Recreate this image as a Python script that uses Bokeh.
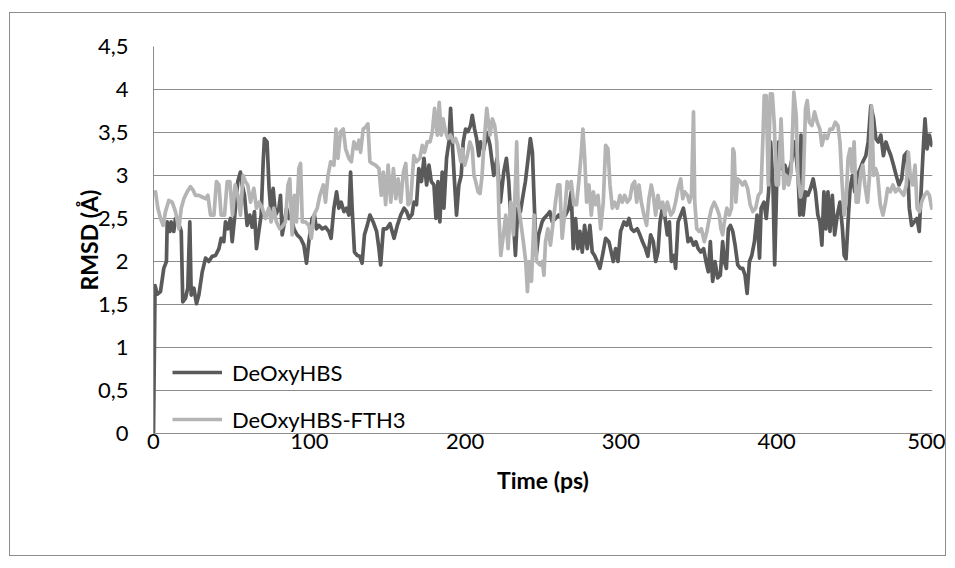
from bokeh.plotting import figure
from bokeh.layouts import column
from bokeh.models import FixedTicker, Range1d, Legend, LegendItem
from bokeh.embed import file_html
from bokeh.resources import INLINE

# ---------------- data ----------------
dark_t = [0, 1.0, 2.4, 4.5, 6.6, 8.3, 8.8, 10.5, 11.3, 13.0, 14.1, 16.0, 17.8, 18.8, 20.5, 22.0, 23.3, 24.2, 25.9, 27.6,
          29.1, 31.3, 33.4, 35.5, 37.7, 39.8, 42.0, 43.4, 45.1, 46.2, 47.7, 49.4, 50.5, 52.0, 54.1, 55.8, 56.9, 58.4, 60.1, 61.8,
          63.3, 64.8, 66.1, 67.6, 69.1, 70.4, 71.2, 72.9, 74.2, 75.5, 76.8, 78.3, 80.5, 81.5, 82.6, 84.1, 85.4, 86.9, 88.4, 90.1,
          92.2, 94.4, 96.5, 98.2, 99.7, 101.8, 103.3, 104.6, 106.1, 108.3, 110.4, 112.5, 114.0, 115.8, 117.5, 119.0, 120.5, 122.2, 123.9, 125.4,
          126.5, 127.5, 129.0, 130.8, 132.4, 133.9, 135.4, 137.2, 138.9, 141.0, 143.2, 144.7, 145.8, 147.5, 149.6, 151.8, 154.4, 156.5, 158.7, 160.8,
          162.5, 164.0, 166.0, 167.1, 168.8, 170.3, 172.0, 173.6, 175.3, 176.8, 178.3, 180.0, 181.3, 182.6, 183.8, 185.3, 186.4, 188.1, 189.6, 190.7,
          192.0, 193.2, 194.5, 196.0, 197.5, 198.8, 200.3, 201.8, 203.5, 204.6, 206.1, 207.4, 208.8, 209.9, 212.0, 214.0, 216.0, 218.4, 220.5, 222.7,
          224.8, 226.5, 228.0, 229.5, 230.8, 232.3, 233.8, 235.5, 237.2, 238.7, 240.2, 241.9, 243.2, 244.5, 245.7, 247.2, 249.4, 250.6, 252.7, 254.4,
          255.9, 258.0, 260.1, 262.3, 264.4, 266.6, 268.1, 269.4, 270.9, 272.4, 273.7, 275.2, 276.7, 278.4, 280.1, 281.6, 283.1, 284.8, 286.5, 288.2,
          290.2, 292.3, 293.8, 295.1, 296.6, 298.1, 299.8, 302.0, 303.7, 305.2, 306.7, 308.4, 310.5, 312.2, 313.9, 315.8, 317.3, 319.1, 320.8, 322.3,
          323.8, 325.1, 326.6, 328.1, 329.8, 331.1, 332.4, 334.2, 335.1, 336.7, 338.4, 340.1, 341.6, 343.1, 344.8, 346.6, 348.1, 349.6, 351.3, 353.1,
          354.6, 356.1, 357.4, 358.9, 360.4, 362.1, 363.8, 365.3, 366.4, 367.7, 369.0, 370.3, 371.8, 373.3, 375.0, 376.7, 378.2, 379.7, 381.0, 382.5,
          384.0, 385.7, 387.4, 389.0, 390.0, 391.8, 393.3, 394.8, 396.1, 397.6, 398.7, 400.0, 401.3, 403.0, 405.2, 407.3, 409.5, 411.6, 413.7, 414.8,
          415.6, 417.0, 418.5, 420.0, 421.7, 423.4, 424.9, 426.4, 427.7, 429.0, 430.3, 431.6, 432.9, 434.2, 435.7, 437.2, 438.9, 440.6, 442.2, 443.3,
          444.5, 445.8, 447.1, 448.6, 450.1, 451.8, 453.6, 455.3, 457.2, 458.7, 460.4, 462.2, 463.6, 465.2, 466.8, 468.5, 470.1, 471.6, 473.3, 475.0,
          476.7, 478.5, 480.2, 481.9, 483.6, 485.1, 486.6, 488.3, 490.0, 491.5, 493.0, 494.3, 495.2, 496.5, 498.0, 499.5, 500.0]
dark_v = [0.00, 1.72, 1.62, 1.65, 1.92, 2.00, 2.46, 2.35, 2.46, 2.35, 2.50, 2.45, 2.35, 1.53, 1.57, 1.69, 2.46, 1.61, 1.69, 1.51,
          1.61, 1.88, 2.04, 2.00, 2.06, 2.07, 2.15, 2.27, 2.23, 2.46, 2.38, 2.50, 2.23, 2.50, 2.93, 3.04, 2.89, 2.77, 2.42, 2.54,
          2.40, 2.58, 2.15, 2.35, 2.54, 3.16, 3.43, 3.39, 2.85, 2.54, 2.85, 2.54, 2.62, 2.77, 2.31, 2.46, 2.62, 2.50, 2.54, 2.38,
          2.31, 2.27, 2.19, 1.98, 2.23, 2.50, 2.54, 2.38, 2.42, 2.38, 2.40, 2.35, 2.27, 2.62, 2.81, 2.62, 2.69, 2.58, 2.62, 2.54,
          3.04, 2.62, 2.11, 2.07, 2.06, 1.98, 2.31, 2.42, 2.54, 2.46, 2.35, 2.15, 1.96, 2.38, 2.38, 2.44, 2.27, 2.42, 2.54, 2.62,
          2.58, 2.50, 2.55, 2.69, 2.66, 3.08, 2.93, 3.20, 2.89, 3.12, 2.93, 2.89, 2.50, 2.93, 2.46, 3.04, 2.62, 3.20, 3.39, 3.78,
          3.31, 2.93, 2.54, 2.89, 3.00, 3.39, 3.54, 3.51, 3.58, 3.70, 3.54, 3.43, 3.23, 3.39, 3.30, 3.50, 3.35, 3.00, 3.20, 2.69,
          3.04, 3.20, 2.93, 2.46, 2.54, 2.07, 2.62, 2.58, 2.77, 2.93, 3.16, 3.43, 3.27, 2.62, 2.07, 2.31, 2.46, 2.50, 2.54, 2.58,
          2.46, 2.50, 2.54, 2.50, 2.54, 2.62, 2.81, 2.15, 2.50, 2.15, 2.35, 2.11, 2.42, 2.15, 2.42, 2.11, 2.07, 2.00, 1.92, 2.07,
          2.27, 2.23, 2.11, 2.00, 2.15, 2.00, 2.35, 2.46, 2.42, 2.50, 2.38, 2.35, 2.38, 2.31, 2.23, 2.15, 2.06, 2.31, 2.23, 2.00,
          2.11, 2.46, 2.62, 2.54, 2.31, 2.46, 2.00, 2.07, 1.92, 2.46, 2.54, 2.62, 2.46, 2.23, 2.27, 2.19, 2.23, 2.15, 2.11, 2.15,
          2.00, 1.88, 2.23, 1.77, 2.00, 1.81, 1.84, 2.23, 2.00, 1.92, 2.38, 2.42, 2.35, 2.19, 1.96, 1.92, 1.92, 1.84, 1.63, 2.00,
          2.07, 2.23, 2.54, 2.04, 2.62, 2.69, 2.50, 2.81, 3.39, 2.89, 1.96, 2.89, 3.39, 3.08, 3.12, 3.00, 3.16, 3.39, 3.00, 2.54,
          3.47, 2.54, 2.81, 2.77, 2.85, 2.96, 2.81, 2.54, 2.46, 2.19, 2.81, 2.38, 2.81, 2.35, 2.77, 2.31, 2.54, 2.69, 2.38, 2.07,
          2.03, 2.46, 2.85, 3.00, 2.81, 3.00, 3.08, 3.16, 3.23, 3.39, 3.81, 3.66, 3.43, 3.39, 3.47, 3.23, 3.39, 3.31, 3.23, 3.12,
          3.00, 2.89, 2.96, 3.23, 3.27, 2.62, 2.42, 2.46, 2.50, 2.35, 2.93, 3.39, 3.66, 3.31, 3.47, 3.35, 3.35]

light_t = [0, 1.3, 2.8, 4.5, 6.2, 7.7, 9.8, 12.0, 14.1, 16.3, 17.8, 19.5, 21.6, 23.7, 25.4, 26.9, 29.1, 31.2, 33.4, 34.9,
           36.6, 38.8, 40.4, 42.0, 43.4, 45.6, 47.3, 49.0, 50.7, 52.4, 54.1, 55.8, 57.5, 59.0, 60.5, 62.3, 64.4, 66.1, 67.8, 69.8,
           71.9, 74.0, 75.5, 77.2, 78.9, 81.1, 82.5, 84.7, 86.3, 87.5, 89.0, 90.5, 91.8, 93.3, 94.4, 95.5, 97.6, 99.7, 101.3, 103.0,
           105.1, 106.8, 109.0, 110.4, 112.0, 113.7, 115.8, 117.1, 118.4, 120.1, 121.8, 123.3, 125.4, 127.0, 128.6, 130.4, 131.9, 132.9, 134.6, 136.1,
           137.6, 138.9, 140.4, 142.5, 144.7, 146.2, 147.5, 149.0, 150.6, 152.3, 154.0, 155.5, 157.0, 158.7, 160.4, 161.9, 163.4, 165.0, 167.1, 168.8,
           171.0, 172.5, 174.0, 175.7, 177.5, 179.0, 180.4, 182.2, 183.4, 184.7, 185.9, 187.4, 189.0, 190.7, 192.4, 193.9, 195.4, 197.2, 198.2, 199.7,
           201.4, 203.1, 204.6, 205.7, 206.8, 208.3, 209.6, 210.9, 212.2, 213.9, 214.7, 216.0, 217.5, 219.0, 220.3, 221.2, 221.8, 222.9, 224.6, 226.1,
           227.6, 229.3, 231.0, 232.5, 233.1, 234.0, 235.7, 237.4, 238.9, 240.0, 241.0, 242.6, 244.3, 245.9, 248.1, 249.6, 250.6, 251.6, 253.1, 254.8,
           256.5, 258.0, 259.5, 260.8, 262.3, 263.8, 265.5, 266.8, 268.1, 269.8, 271.5, 273.0, 274.6, 275.6, 276.7, 278.0, 279.5, 281.0, 282.3, 283.8,
           285.3, 287.0, 288.7, 290.2, 291.7, 293.0, 294.5, 296.0, 297.7, 299.4, 300.9, 302.4, 304.1, 305.8, 307.3, 308.8, 310.1, 311.6, 313.1, 314.8,
           316.5, 318.0, 319.5, 320.8, 322.3, 323.8, 325.1, 326.8, 328.1, 329.8, 332.0, 333.6, 335.1, 336.7, 338.4, 339.7, 341.0, 342.7, 344.0, 345.3,
           346.6, 347.4, 348.7, 350.2, 351.7, 353.5, 355.2, 356.7, 358.2, 359.9, 361.6, 363.1, 364.2, 365.3, 366.4, 368.0, 369.6, 371.0, 371.9, 372.7,
           373.8, 374.9, 376.6, 378.1, 379.6, 381.3, 383.0, 384.7, 386.5, 388.2, 389.9, 391.2, 392.0, 393.3, 394.6, 395.9, 397.2, 398.5, 399.8, 401.1,
           402.8, 404.6, 406.1, 407.6, 409.3, 411.0, 412.5, 413.6, 415.3, 417.0, 418.5, 419.6, 420.9, 422.6, 424.3, 426.0, 427.7, 429.0, 430.7, 432.4,
           434.2, 435.9, 437.6, 439.3, 440.6, 441.9, 443.3, 444.5, 445.8, 447.1, 448.4, 449.7, 451.0, 452.3, 454.0, 455.3, 456.6, 458.3, 459.6, 460.9,
           462.2, 463.5, 464.8, 466.5, 468.2, 469.9, 471.2, 472.9, 474.6, 476.3, 478.1, 479.8, 481.5, 483.2, 484.5, 485.7, 487.2, 488.8, 490.1, 491.6,
           493.0, 494.8, 496.5, 498.0, 499.5, 500.0]
light_v = [2.80, 2.81, 2.62, 2.50, 2.42, 2.58, 2.71, 2.69, 2.58, 2.38, 2.62, 2.73, 2.81, 2.87, 2.83, 2.77, 2.77, 2.75, 2.73, 2.77,
           2.54, 2.54, 2.93, 2.89, 2.54, 2.54, 2.93, 2.93, 2.54, 2.89, 2.77, 2.54, 3.00, 2.93, 2.89, 2.69, 2.85, 2.62, 2.69, 2.62,
           2.50, 2.62, 2.46, 2.62, 2.46, 2.38, 2.40, 2.46, 2.89, 2.96, 2.31, 2.77, 2.46, 3.08, 3.14, 2.46, 2.46, 2.42, 2.27, 2.54,
           2.62, 2.77, 2.89, 2.69, 3.00, 3.16, 3.12, 3.54, 3.20, 3.51, 3.54, 3.31, 3.20, 3.16, 3.39, 3.31, 3.41, 3.27, 3.54, 3.56,
           3.60, 3.16, 3.14, 3.12, 3.08, 2.77, 3.04, 2.66, 3.12, 2.69, 3.08, 2.73, 2.96, 2.69, 3.04, 3.14, 2.66, 2.69, 3.23, 3.16,
           3.20, 3.35, 3.27, 3.39, 3.39, 3.51, 3.78, 3.47, 3.85, 3.47, 3.66, 3.51, 3.43, 3.47, 3.39, 3.43, 3.35, 3.16, 3.31, 3.12,
           3.23, 3.39, 3.31, 3.00, 2.93, 2.81, 2.79, 3.00, 3.39, 3.78, 3.66, 3.47, 3.66, 3.58, 3.39, 2.93, 2.50, 2.07, 2.31, 2.54,
           2.15, 2.69, 2.31, 3.00, 3.39, 2.69, 2.46, 2.23, 2.00, 1.65, 2.00, 1.77, 2.54, 2.00, 1.96, 2.00, 1.84, 2.23, 2.38, 2.19,
           2.46, 2.69, 2.89, 2.89, 2.27, 2.54, 2.93, 2.85, 2.93, 2.66, 2.66, 2.93, 3.27, 3.54, 3.23, 2.69, 2.89, 2.54, 2.81, 2.66,
           2.77, 2.38, 2.69, 3.35, 3.31, 2.89, 2.62, 2.69, 2.62, 2.77, 2.69, 2.77, 2.69, 2.73, 2.89, 2.93, 2.69, 2.89, 2.69, 2.54,
           2.42, 2.73, 2.89, 2.77, 2.54, 2.77, 2.62, 2.69, 2.54, 2.69, 2.54, 2.58, 2.69, 2.85, 2.96, 2.73, 2.81, 2.77, 2.69, 2.77,
           3.74, 2.69, 2.38, 2.35, 2.38, 2.23, 2.35, 2.50, 2.62, 2.69, 2.62, 2.54, 2.38, 2.31, 2.46, 2.62, 2.54, 2.62, 3.31, 3.27,
           2.69, 2.96, 2.93, 2.89, 2.93, 2.85, 2.66, 2.58, 2.62, 2.77, 2.81, 3.47, 3.93, 3.93, 2.89, 3.95, 3.95, 3.58, 2.89, 2.89,
           3.66, 2.85, 3.00, 2.89, 3.04, 3.97, 3.70, 3.00, 2.75, 2.89, 3.78, 3.87, 3.62, 3.58, 3.74, 3.62, 3.54, 3.35, 3.47, 3.43,
           3.54, 3.54, 3.62, 3.58, 3.39, 2.93, 2.54, 2.69, 3.20, 3.31, 3.04, 3.39, 2.69, 2.69, 3.04, 3.12, 2.89, 2.69, 3.00, 3.81,
           3.00, 3.08, 3.00, 2.66, 2.54, 2.69, 2.85, 2.81, 2.89, 2.81, 2.85, 2.81, 2.77, 2.89, 3.27, 3.00, 2.89, 3.12, 2.62, 2.58,
           2.69, 2.77, 2.81, 2.77, 2.62, 2.64]

series_names = ["DeOxyHBS", "DeOxyHBS-FTH3"]
y_ticks = [0, 0.5, 1, 1.5, 2, 2.5, 3, 3.5, 4, 4.5]
y_tick_labels = ["0", "0,5", "1", "1,5", "2", "2,5", "3", "3,5", "4", "4,5"]
x_ticks = [0, 100, 200, 300, 400, 500]

# ---------------- figure ----------------
FONT = "Lato"
GRID = "#8c8c8c"

# the figure sits inside a bordered box whose top-left is at (9, 12) in the window
p = figure(width=935, height=542, output_backend="svg", toolbar_location=None,
           x_range=Range1d(0, 500), y_range=Range1d(0, 4.5),
           min_border_left=143, min_border_right=13, min_border_top=33, min_border_bottom=122)
p.outline_line_color = None
p.background_fill_color = "white"
p.border_fill_color = "white"

# grid
p.xgrid.grid_line_color = None
p.ygrid.grid_line_color = GRID
p.ygrid.grid_line_width = 1
p.ygrid.ticker = FixedTicker(ticks=y_ticks)

# axes
p.yaxis.ticker = FixedTicker(ticks=y_ticks)
p.yaxis.major_label_overrides = {t: s for t, s in zip(y_ticks, y_tick_labels)}
p.xaxis.ticker = FixedTicker(ticks=x_ticks)
for ax in (p.xaxis, p.yaxis):
    ax.axis_line_color = GRID
    ax.axis_line_width = 1
    ax.major_tick_line_color = None
    ax.minor_tick_line_color = None
    ax.major_tick_out = 0
    ax.major_tick_in = 0
    ax.major_label_text_font = FONT
    ax.major_label_text_font_size = "22px"
    ax.major_label_text_color = "black"
    ax.axis_label_text_font = FONT
    ax.axis_label_text_font_size = "23px"
    ax.axis_label_text_font_style = "bold"
    ax.axis_label_text_color = "black"
p.yaxis.major_label_standoff = 25
p.xaxis.major_label_standoff = 0
p.yaxis.axis_label = "RMSD (Å)"
p.xaxis.axis_label = "Time (ps)"
p.yaxis.axis_label_standoff = -8
p.xaxis.axis_label_standoff = 14

# lines
r1 = p.line(dark_t, dark_v, line_color="#5a5a5a", line_width=3.7, line_join="round")
r2 = p.line(light_t, light_v, line_color="#b4b4b4", line_width=3.7, line_join="round")

legend = Legend(items=[LegendItem(label=series_names[0], renderers=[r1]),
                       LegendItem(label=series_names[1], renderers=[r2])],
                location=(19, 0), orientation="vertical")
legend.background_fill_alpha = 0
legend.border_line_alpha = 0
legend.padding = 0
legend.margin = 0
legend.glyph_width = 50
legend.glyph_height = 28
legend.label_height = 28
legend.spacing = 19
legend.label_standoff = 10
legend.label_text_font = FONT
legend.label_text_font_size = "22px"
legend.label_text_color = "black"
p.add_layout(legend, "center")

page = column(p, margin=(12, 0, 0, 9),
              styles={"border": "1px solid #8c8c8c", "background-color": "white"})

open("out.html", "w").write(file_html(page, INLINE))
